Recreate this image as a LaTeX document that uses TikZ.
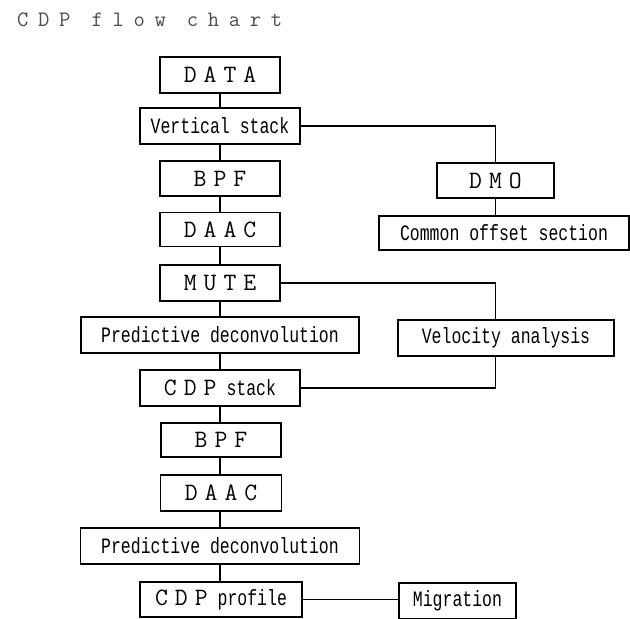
\documentclass[tikz,border=0pt]{standalone}
\usepackage{fontspec}
\newfontfamily\capfont[LetterSpace=28]{Latin Modern Mono}
\newfontfamily\txtfont[FakeStretch=0.75]{Liberation Mono}
\newcommand{\cp}[1]{{\capfont\fontsize{25}{28}\selectfont #1}}
\newcommand{\tx}[1]{{\txtfont\fontsize{22}{26}\selectfont #1}}
\tikzset{
  stage/.style={draw, line width=1.2pt, inner sep=0pt, minimum height=36pt},
  link/.style={line width=1.2pt},
}
\begin{document}
\begin{tikzpicture}[x=1pt, y=-1pt]
\useasboundingbox (0,0) rectangle (630,619);
% --- title ---
 \node[anchor=base west, inner sep=0pt, text=black!70] (title) at (17,26)
   {\capfont\fontsize{22}{25}\selectfont\addfontfeature{LetterSpace=44}CDP flow chart};

 % main column
  \node[stage, minimum width=120pt] (data)   at (220,75)  {\cp{DATA}};
  \node[stage, minimum width=160pt] (vstack) at (220,126) {\tx{Vertical stack}};
  \node[stage, minimum width=120pt, minimum height=35pt] (bpfa) at (220,178.5) {\cp{BPF}};
  \node[stage, minimum width=120pt, minimum height=34pt] (daaca) at (220,229.5) {\cp{DAAC}};
  \node[stage, minimum width=120pt] (mute)   at (220,283) {\cp{MUTE}};
  \node[stage, minimum width=278pt] (pdeca)  at (220,335) {\tx{Predictive deconvolution}};
  \node[stage, minimum width=160pt] (cstack) at (220,388) {\cp{CDP}\tx{ stack}};
  \node[stage, minimum width=120pt, minimum height=34pt] (bpfb) at (221,440) {\cp{BPF}};
  \node[stage, minimum width=121pt] (daacb)  at (221,493) {\cp{DAAC}};
  \node[stage, minimum width=279pt] (pdecb)  at (220,546) {\tx{Predictive deconvolution}};
  \node[stage, minimum width=162pt, minimum height=35pt] (cprof) at (221,599.5) {\cp{CDP}\tx{ profile}};

 % side branches
  \node[stage, minimum width=117pt, minimum height=35pt] (dmo) at (495.5,180.5) {\cp{DMO}};
  \node[stage, minimum width=250pt, minimum height=34pt] (coff) at (504,233) {\tx{Common offset section}};
  \node[stage, minimum width=216pt] (velo) at (506,338) {\tx{Velocity analysis}};
  \node[stage, minimum width=117pt] (migr) at (457.5,601) {\tx{Migration}};

 % connectors
  \foreach \a/\b in {data/vstack, vstack/bpfa, bpfa/daaca, daaca/mute, mute/pdeca,
                     pdeca/cstack, cstack/bpfb, bpfb/daacb, daacb/pdecb, pdecb/cprof}
    \draw[link] (\a.south -| data) -- (\b.north -| data);
  \draw[link] (vstack.east) -| (dmo.north);
  \draw[link] (dmo.south) -- (dmo.south |- coff.north);
  \draw[link] (mute.east) -| (velo.north -| dmo);
  \draw[link] (velo.south -| dmo) |- (cstack.east);
  \draw[link] (cprof.east) -- (migr.west |- cprof.east);
\end{tikzpicture}
\end{document}
